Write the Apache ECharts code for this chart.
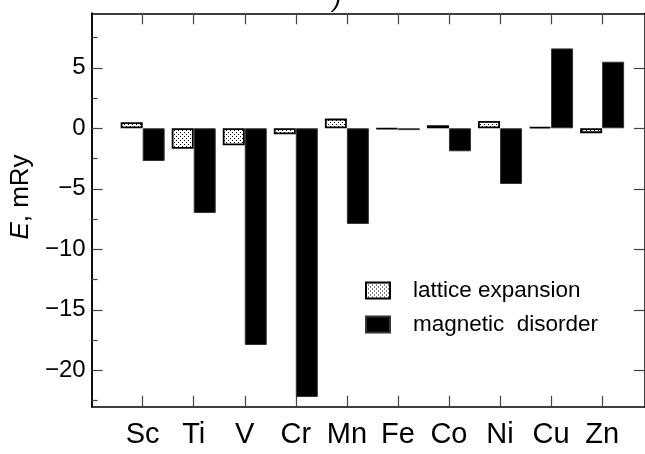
<!DOCTYPE html>
<html>
<head>
<meta charset="utf-8">
<script src="https://cdn.jsdelivr.net/npm/echarts@6/dist/echarts.min.js"></script>
<style>
  html, body { margin: 0; padding: 0; background: #fff; }
  #chart { width: 645px; height: 454px; }
</style>
</head>
<body>
<div id="chart"></div>
<script>
// 3d transition metals along the x axis
const elements = ['Sc', 'Ti', 'V', 'Cr', 'Mn', 'Fe', 'Co', 'Ni', 'Cu', 'Zn'];
// energy contributions, mRy
const latticeExpansion = [0.5, -1.7, -1.4, -0.5, 0.8, -0.05, 0.25, 0.6, 0.1, -0.4];
const magneticDisorder = [-2.7, -7.0, -17.9, -22.2, -7.9, -0.15, -1.9, -4.6, 6.6, 5.5];
// y axis ticks
const yMajorTicks = [-20, -15, -10, -5, 0, 5];
const yMinorTicks = [-22.5, -17.5, -12.5, -7.5, -2.5, 2.5, 7.5];
const seriesNames = ['lattice expansion', 'magnetic  disorder'];

// stipple fill for the lattice-expansion bars
function stipple() {
  const c = document.createElement('canvas');
  c.width = 4; c.height = 4;
  const g = c.getContext('2d');
  g.fillStyle = '#fff';
  g.fillRect(0, 0, 4, 4);
  g.fillStyle = '#000';
  g.fillRect(0, 0, 1, 1);
  g.fillRect(2, 2, 1, 1);
  return c;
}

const xPos = elements.map((e, i) => i + 1);
const font = 'Liberation Sans, Arial, Helvetica, sans-serif';
const minus = v => String(v).replace('-', '\u2212');

const chart = echarts.init(document.getElementById('chart'), null, { renderer: 'canvas' });

const xBase = {
  type: 'value', min: 0, max: 10.84,
  splitLine: { show: false },
  axisLine: { show: true, onZero: false, lineStyle: { color: '#000', width: 1.5 } },
  axisTick: { show: true, inside: true, length: 11, customValues: xPos, lineStyle: { color: '#444', width: 1.2 } }
};
const yBase = {
  type: 'value', min: -23, max: 9.5,
  splitLine: { show: false },
  axisLine: { show: true, onZero: false, lineStyle: { color: '#000', width: 1.5 } }
};

chart.setOption({
  animation: false,
  backgroundColor: '#fff',
  title: {
    text: ')', left: 328, top: -17,
    textStyle: { fontFamily: font, fontSize: 24, fontStyle: 'italic', fontWeight: 'normal', color: '#000' }
  },
  grid: { left: 91.6, top: 13.3, width: 553.9, height: 393.4 },
  legend: {
    orient: 'vertical', left: 360, top: 274,
    icon: 'rect',
    itemWidth: 24, itemHeight: 16, itemGap: 11,
    textStyle: { fontFamily: font, fontSize: 22.5, lineHeight: 22, color: '#000', padding: [0, 0, 0, 18] },
    data: seriesNames
  },
  xAxis: [
    Object.assign({}, xBase, {
      position: 'bottom',
      axisLabel: {
        show: true, customValues: xPos, margin: 14,
        fontFamily: font, fontSize: 29, color: '#000',
        formatter: v => elements[Math.round(v) - 1]
      }
    }),
    Object.assign({}, xBase, { position: 'top', axisLabel: { show: false } })
  ],
  yAxis: [
    Object.assign({}, yBase, {
      position: 'left',
      name: '{i|E}, mRy', nameLocation: 'middle', nameGap: 55,
      nameTextStyle: {
        fontFamily: font, fontSize: 26, color: '#000', padding: [0, 0, 0, 26],
        rich: { i: { fontFamily: font, fontSize: 26, fontStyle: 'italic', color: '#000' } }
      },
      axisTick: { show: true, inside: true, length: 11, customValues: yMajorTicks, lineStyle: { color: '#444', width: 1.2 } },
      axisLabel: {
        show: true, customValues: yMajorTicks, margin: 6,
        fontFamily: font, fontSize: 24, color: '#000', formatter: minus
      }
    }),
    Object.assign({}, yBase, {
      position: 'left',
      axisTick: { show: true, inside: true, length: 6, customValues: yMinorTicks, lineStyle: { color: '#444', width: 1.2 } },
      axisLabel: { show: false }
    }),
    Object.assign({}, yBase, {
      position: 'right',
      axisTick: { show: true, inside: true, length: 11, customValues: yMajorTicks, lineStyle: { color: '#444', width: 1.2 } },
      axisLabel: { show: false }
    })
  ],
  series: [
    {
      name: seriesNames[0], type: 'bar',
      xAxisIndex: 0, yAxisIndex: 0,
      barWidth: 22, barGap: '0%',
      itemStyle: { color: { image: stipple(), repeat: 'repeat' }, borderColor: '#000', borderWidth: 1.8 },
      data: latticeExpansion.map((v, i) => [xPos[i], v])
    },
    {
      name: seriesNames[1], type: 'bar',
      xAxisIndex: 0, yAxisIndex: 0,
      barWidth: 22, barGap: '0%',
      itemStyle: { color: '#000', borderColor: '#333', borderWidth: 1 },
      data: magneticDisorder.map((v, i) => [xPos[i], v])
    }
  ]
});
</script>
</body>
</html>
